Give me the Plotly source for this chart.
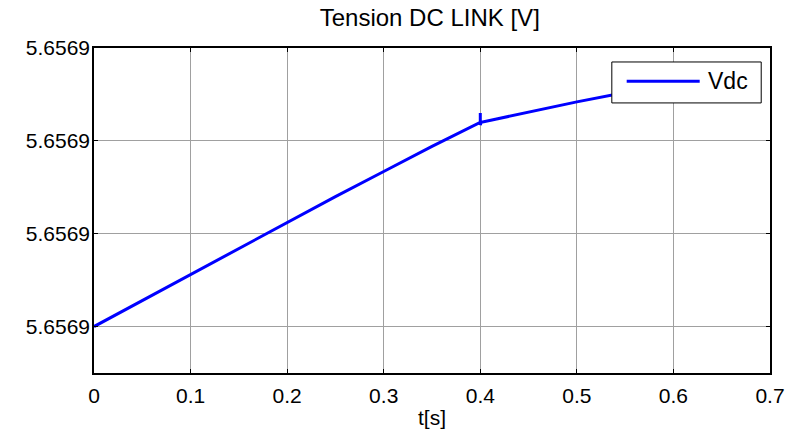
import plotly.graph_objects as go

# Data
t = [0.0, 0.05, 0.10, 0.15, 0.20, 0.25, 0.30, 0.35, 0.40, 0.400, 0.400, 0.401,
     0.45, 0.50, 0.55, 0.60, 0.65, 0.68]
vdc = [5.656854200, 5.656854228, 5.656854256, 5.656854284, 5.656854312,
       5.656854340, 5.656854367, 5.656854394, 5.656854420, 5.656854430,
       5.656854417, 5.656854420, 5.656854431, 5.656854442, 5.656854452,
       5.656854462, 5.656854472, 5.656854478]

x_ticks = [0, 0.1, 0.2, 0.3, 0.4, 0.5, 0.6, 0.7]
x_tick_labels = ["0", "0.1", "0.2", "0.3", "0.4", "0.5", "0.6", "0.7"]
y_ticks = [5.6568542, 5.6568543, 5.6568544, 5.6568545]
y_tick_labels = ["5.6569", "5.6569", "5.6569", "5.6569"]
y_range = [5.65685415, 5.6568545]
series_name = "Vdc"

FONT = "Liberation Sans, Arial, sans-serif"
LINE_COLOR = "#0000ff"

fig = go.Figure()
fig.add_trace(go.Scatter(x=t, y=vdc, mode="lines", name=series_name,
                         line=dict(color=LINE_COLOR, width=3),
                         showlegend=False))

# MATLAB-style legend box (long line sample)
fig.add_shape(type="rect", xref="paper", yref="paper",
              x0=0.766, x1=0.987, y0=0.831, y1=0.957,
              fillcolor="white", line=dict(color="black", width=1), layer="above")
fig.add_shape(type="line", xref="paper", yref="paper",
              x0=0.788, x1=0.896, y0=0.898, y1=0.898,
              line=dict(color=LINE_COLOR, width=3), layer="above")
fig.add_annotation(text=series_name, xref="paper", yref="paper",
                   x=0.906, y=0.898, xanchor="left", yanchor="middle",
                   showarrow=False, font=dict(size=23, color="black"))

fig.update_layout(
    width=790, height=446,
    margin=dict(l=94, r=20, t=48, b=73),
    paper_bgcolor="white", plot_bgcolor="white",
    font=dict(family=FONT, size=21, color="black"),
    title=dict(text="Tension DC LINK [V]", x=0.544, xanchor="center",
               y=0.96, yanchor="middle", font=dict(size=24, color="black")),
    xaxis=dict(range=[0, 0.7], tickvals=x_ticks, ticktext=x_tick_labels,
               showgrid=True, gridcolor="#a0a0a0", gridwidth=1,
               showline=True, linecolor="black", linewidth=1.5, mirror="ticks",
               ticks="inside", ticklen=4, tickcolor="black",
               zeroline=False, automargin=False, ticklabelstandoff=3,
               title=dict(text="t[s]", font=dict(size=21), standoff=4)),
    yaxis=dict(range=y_range, tickvals=y_ticks, ticktext=y_tick_labels,
               showgrid=True, gridcolor="#a0a0a0", gridwidth=1,
               showline=True, linecolor="black", linewidth=1.5, mirror="ticks",
               ticks="inside", ticklen=4, tickcolor="black",
               zeroline=False, automargin=False, ticklabelstandoff=-2),
)

fig.write_html("out.html",
               config={"displayModeBar": False},
               post_script="document.body.style.margin='0';document.body.style.overflow='hidden';")
